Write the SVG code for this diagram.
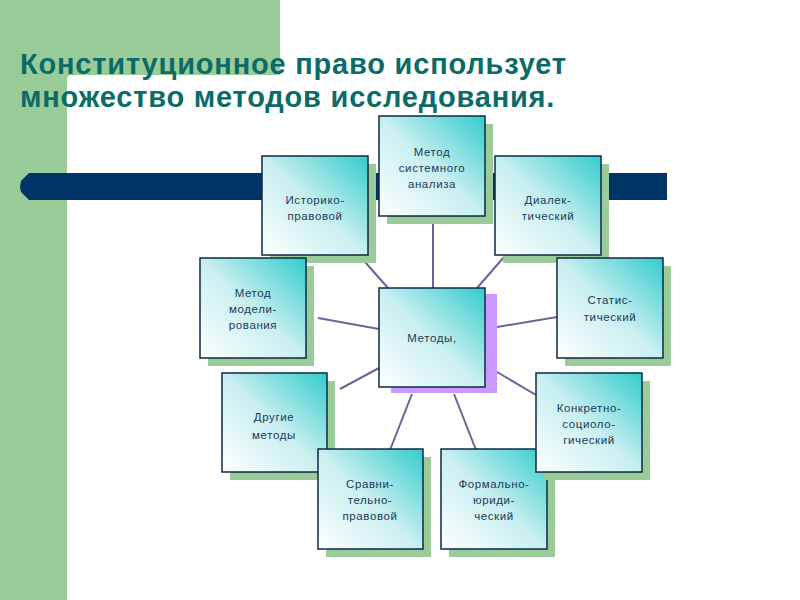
<svg xmlns="http://www.w3.org/2000/svg" width="800" height="600" viewBox="0 0 800 600">
  <defs>
    <linearGradient id="g" x1="0" y1="1" x2="1" y2="0">
      <stop offset="0" stop-color="#ffffff"/>
      <stop offset="0.5" stop-color="#c8eff0"/>
      <stop offset="1" stop-color="#33cccc"/>
    </linearGradient>
    <style>
      .box { fill: url(#g); stroke: #0d2a45; stroke-width: 1.5; }
      .sh { fill: #99cc99; }
      .shp { fill: #cc99ff; }
      .lbl { font-family: "Liberation Sans", Arial, sans-serif; font-size: 11.5px; fill: #1a3a5a; text-anchor: middle; letter-spacing: 0.6px; }
      .title { font-family: "Liberation Sans", Arial, sans-serif; font-size: 29px; font-weight: bold; fill: #0b6b66; letter-spacing: 0.8px; }
      .conn line { stroke: #666699; stroke-width: 2; }
    </style>
  </defs>
  <rect width="800" height="600" fill="#ffffff"/>
  <!-- background decoration -->
  <path d="M0,0 H280 V75 H72 Q67,75 67,80 V600 H0 Z" fill="#99cc99"/>
  <path d="M29,173 H667 V200 H29 L21,192 L20,187 L21,181 Z" fill="#003366"/>
  <text class="title" x="20" y="74">Конституционное право использует</text>
  <text class="title" x="20" y="107">множество методов исследования.</text>

  <g id="connectors" class="conn">
    <line x1="433" y1="216" x2="433" y2="288"/>
    <line x1="365" y1="262" x2="388" y2="288"/>
    <line x1="504" y1="257" x2="477" y2="288"/>
    <line x1="318" y1="318" x2="379" y2="329"/>
    <line x1="497" y1="327" x2="557" y2="317"/>
    <line x1="340" y1="389" x2="379" y2="368"/>
    <line x1="497" y1="372" x2="536" y2="395"/>
    <line x1="412" y1="394" x2="390" y2="450"/>
    <line x1="454" y1="394" x2="476" y2="450"/>
  </g>

  <g id="n-system">
    <rect class="sh" x="387" y="124" width="106" height="100"/>
    <rect class="box" x="379" y="116" width="106" height="100"/>
    <text class="lbl" x="432" y="156">Метод</text>
    <text class="lbl" x="432" y="172">системного</text>
    <text class="lbl" x="432" y="188">анализа</text>
  </g>
  <g id="n-istoriko">
    <rect class="sh" x="270" y="164" width="106" height="99"/>
    <rect class="box" x="262" y="156" width="106" height="99"/>
    <text class="lbl" x="315" y="204">Историко-</text>
    <text class="lbl" x="315" y="220">правовой</text>
  </g>
  <g id="n-dialek">
    <rect class="sh" x="503" y="164" width="106" height="99"/>
    <rect class="box" x="495" y="156" width="106" height="99"/>
    <text class="lbl" x="548" y="204">Диалек-</text>
    <text class="lbl" x="548" y="220">тический</text>
  </g>
  <g id="n-model">
    <rect class="sh" x="208" y="266" width="106" height="100"/>
    <rect class="box" x="200" y="258" width="106" height="100"/>
    <text class="lbl" x="253" y="297">Метод</text>
    <text class="lbl" x="253" y="313">модели-</text>
    <text class="lbl" x="253" y="329">рования</text>
  </g>
  <g id="n-center">
    <rect class="shp" x="391" y="294" width="106" height="99"/>
    <rect class="box" x="379" y="288" width="106" height="99"/>
    <text class="lbl" x="432" y="342">Методы,</text>
  </g>
  <g id="n-stat">
    <rect class="sh" x="565" y="266" width="106" height="100"/>
    <rect class="box" x="557" y="258" width="106" height="100"/>
    <text class="lbl" x="610" y="304">Статис-</text>
    <text class="lbl" x="610" y="321">тический</text>
  </g>
  <g id="n-drugie">
    <rect class="sh" x="230" y="381" width="105" height="99"/>
    <rect class="box" x="222" y="373" width="105" height="99"/>
    <text class="lbl" x="274" y="421">Другие</text>
    <text class="lbl" x="274" y="439">методы</text>
  </g>
  <g id="n-sravni">
    <rect class="sh" x="326" y="457" width="105" height="100"/>
    <rect class="box" x="318" y="449" width="105" height="100"/>
    <text class="lbl" x="370" y="488">Сравни-</text>
    <text class="lbl" x="370" y="504">тельно-</text>
    <text class="lbl" x="370" y="520">правовой</text>
  </g>
  <g id="n-formal">
    <rect class="sh" x="449" y="457" width="106" height="100"/>
    <rect class="box" x="441" y="449" width="106" height="100"/>
    <text class="lbl" x="494" y="488">Формально-</text>
    <text class="lbl" x="494" y="504">юриди-</text>
    <text class="lbl" x="494" y="520">ческий</text>
  </g>
  <g id="n-konkret">
    <rect class="sh" x="544" y="381" width="106" height="99"/>
    <rect class="box" x="536" y="373" width="106" height="99"/>
    <text class="lbl" x="589" y="412">Конкретно-</text>
    <text class="lbl" x="589" y="428">социоло-</text>
    <text class="lbl" x="589" y="444">гический</text>
  </g>
</svg>
